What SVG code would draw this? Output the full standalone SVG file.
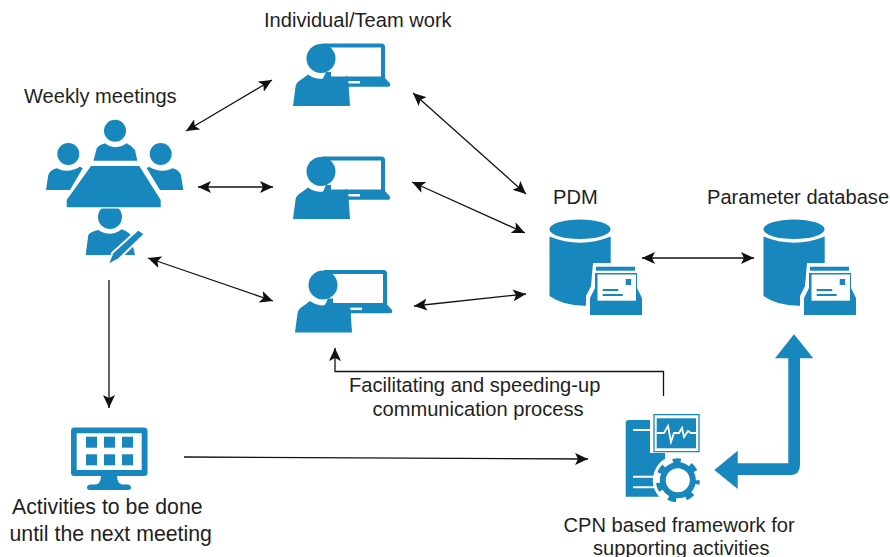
<svg xmlns="http://www.w3.org/2000/svg" width="890" height="557" viewBox="0 0 890 557">
<style>
text{font-family:"Liberation Sans",Arial,sans-serif;font-size:20.100px;fill:#1f1f1f}
.big{font-size:21.300px}
.b{fill:#1787bd}
.w{fill:#fff}
.c{fill:none;stroke:#111;stroke-width:1.300;marker-end:url(#a)}
.d{fill:none;stroke:#111;stroke-width:1.300;marker-start:url(#s);marker-end:url(#a)}
.l{fill:none;stroke:#fff;stroke-width:2}
</style>
<defs>
<marker id="a" markerUnits="userSpaceOnUse" markerWidth="14" markerHeight="12" refX="13" refY="6" orient="auto"><path d="M0 0L13 6L0 12L3 6Z" fill="#111"/></marker>
<marker id="s" markerUnits="userSpaceOnUse" markerWidth="14" markerHeight="12" refX="1" refY="6" orient="auto"><path d="M14 0L1 6L14 12L11 6Z" fill="#111"/></marker>
<g id="worker">
<path class="b" fill-rule="evenodd" d="M322 43.500H381.500Q385 43.500 385 47V78L390 83.500Q391 86.700 388 86.700H345V76.500H381V47.500H322Z"/>
<rect x="348" y="81" width="12" height="2.500" class="w"/>
<circle class="b" cx="321" cy="58.500" r="14.500"/>
<path class="b" d="M293 106L295.500 87Q296 82 302 79L308 74.500Q316 80 323 78.500L326 72H331V76.500H348L350 106Z"/>
</g>
<g id="db">
<ellipse class="b" cx="580" cy="229.300" rx="30.500" ry="9.800"/>
<path class="b" d="M549.500 236.500Q580 249 610.700 236.500V290L590 305.500Q565 307 549.500 296Z"/>
<path class="w" d="M593 263H640V286L645 297V318H586V296L591 286Z"/>
<rect class="b" x="596" y="266.700" width="39" height="4"/>
<path class="b" d="M590 315V298L595 288V273H637V288L642 298V315Z"/>
<rect class="w" x="597.500" y="274.500" width="38.500" height="26.200"/>
<rect class="b" x="625.700" y="279" width="5.500" height="6"/>
<rect class="b" x="602.700" y="289" width="15.600" height="2"/>
<rect class="b" x="602.700" y="294" width="20" height="2"/>
</g>
</defs>
<g id="connectors">
<path class="d" d="M186 131L272 80"/>
<path class="d" d="M198 187H273"/>
<path class="d" d="M148 258L273 301"/>
<path class="c" d="M109 280V408"/>
<path class="d" d="M413 93L526 194"/>
<path class="d" d="M412 182L525 233"/>
<path class="d" d="M414 306L526 294"/>
<path class="d" d="M642 258H754"/>
<path class="c" d="M184 457L588 459"/>
<path class="c" d="M663.500 396V371.500H335V348"/>
<path class="b" d="M714.300 470L737.700 450.700V463.300H788.300V358.300H775L794 334.300L813.300 358.300H800V465Q800 475 790 475H737.700V489Z"/>
</g>
<g id="weekly-meetings">
<circle class="b" cx="115" cy="130.700" r="11"/>
<path class="b" d="M93.500 160.700L96.700 148.300Q99 145 105 143.300Q115 151 126.700 143.300Q132 146 135 150L137.300 160.700Z"/>
<circle class="b" cx="68.300" cy="154" r="11"/>
<path class="b" d="M46 190L48.300 175Q50 170 56.700 168.300Q68 174 80 166.700L82.700 168.300L70 190Z"/>
<circle class="b" cx="160.700" cy="154" r="11"/>
<path class="b" d="M183.300 190L181 175Q179 170 172.500 168.300Q161 174 149 166.700L146.700 168.300L160 190Z"/>
<circle class="b" cx="110" cy="217" r="12"/>
<rect class="w" x="90" y="205" width="40" height="3.500"/>
<path class="b" d="M91 166H139.300L160.700 200V207.300H66.700V200Z"/>
<path class="b" d="M85.700 255L88.300 235Q90 232 98.300 230Q110 238 121.700 229.300Q127 231 130 234L135 255Z"/>
<path fill="#1787bd" stroke="#fff" stroke-width="4" stroke-linejoin="round" paint-order="stroke" d="M138.300 230.700L143.300 234L118.300 258.300L109.300 263.300L113.300 253.300Z"/>
<text x="24" y="102.500">Weekly meetings</text>
</g>
<g id="worker-1"><use href="#worker"/><text x="264" y="27">Individual/Team work</text></g>
<g id="worker-2"><use href="#worker" y="113"/></g>
<g id="worker-3"><use href="#worker" x="2" y="226.600"/></g>
<g id="pdm"><use href="#db"/><text x="553" y="204">PDM</text></g>
<g id="parameter-database"><use href="#db" x="214"/><text x="707" y="204">Parameter database</text></g>
<g id="activities">
<path class="b" fill-rule="evenodd" d="M74 427.500H144Q147.500 427.500 147.500 431V472.500Q147.500 476 144 476H74Q71 476 71 472.500V431Q71 427.500 74 427.500ZM76.700 433.300V470H141.700V433.300Z"/>
<g class="b"><rect x="86" y="436.700" width="11" height="11"/><rect x="104" y="436.700" width="11" height="11"/><rect x="122" y="436.700" width="11" height="11"/><rect x="86" y="454.300" width="11" height="11"/><rect x="104" y="454.300" width="11" height="11"/><rect x="122" y="454.300" width="11" height="11"/></g>
<path class="b" d="M101 476H117Q117 483 122 484.500H128Q131 485 131 487.500Q131 490 128 490H90Q87 490 87 487.500Q87 485 90 484.500H96Q101 483 101 476Z"/>
<text class="big" x="12" y="513.500">Activities to be done</text>
<text class="big" x="9.500" y="541">until the next meeting</text>
</g>
<g id="cpn-framework">
<path class="b" d="M629 420H650V453H665V496.700H625.700V423Q625.700 420 629 420Z"/>
<path class="l" d="M633 430H651M633 476.700H660M633 487.300H660"/>
<path fill="none" stroke="#1787bd" stroke-width="1.300" d="M654 414.700H699V451.700H654Z"/>
<rect class="b" x="656.700" y="418.300" width="39.300" height="30"/>
<path fill="none" stroke="#fff" stroke-width="1.800" d="M656.700 433H664L668 426L671 442L674 433H679L682 428L684 437L688 431L691 433H696"/>
<circle class="w" cx="677.800" cy="480.300" r="25"/>
<circle fill="none" stroke="#1787bd" stroke-width="6" cx="677.800" cy="480.300" r="15"/>
<circle fill="none" stroke="#1787bd" stroke-width="5" stroke-dasharray="8 10.060" stroke-dashoffset="4" cx="677.800" cy="480.300" r="19.500"/>
<text x="563.500" y="532">CPN based framework for</text>
<text x="593" y="555">supporting activities</text>
</g>
<text x="349" y="392">Facilitating and speeding-up</text>
<text x="372.500" y="416">communication process</text>
</svg>
